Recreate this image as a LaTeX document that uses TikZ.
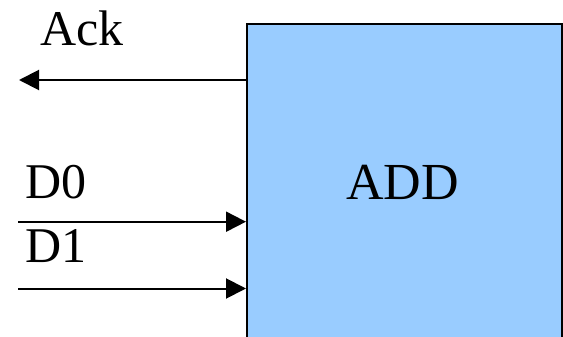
\documentclass[tikz,border=0pt]{standalone}
\usepackage{fontspec}
\setmainfont{Liberation Serif}
\usetikzlibrary{arrows.meta}
\definecolor{boxblue}{HTML}{99CCFF}
\begin{document}
\begin{tikzpicture}[x=1pt,y=-1pt,
  lbl/.style={inner sep=0pt,anchor=base west,font=\fontsize{50}{60}\selectfont},
  wire/.style={line width=2pt,-{Triangle[length=20pt,width=20pt]}},
  blockbox/.style={draw=black,line width=2pt,fill=boxblue,anchor=north west,inner sep=0pt,minimum width=315pt,minimum height=330pt}]
\useasboundingbox (0,0) rectangle (563,337);
\clip (0,0) rectangle (563,337);
\node[blockbox] (add) at (246,22.7) {};
\node[inner sep=0pt,anchor=base,font=\fontsize{52}{62}\selectfont] (addlbl) at (402.5,199) {ADD};
\node[lbl] (ack) at (40,46) {Ack};
\node[lbl] (d0) at (25,198) {D0};
\node[lbl] (d1) at (25,262) {D1};
\coordinate (ackend) at (19,80);
\coordinate (d0start) at (18,221.7);
\coordinate (d1start) at (18,288.5);
\draw[wire] (add.west |- ackend) -- (ackend);
\draw[wire] (d0start) -- (add.west |- d0start);
\draw[wire] (d1start) -- (add.west |- d1start);
\end{tikzpicture}
\end{document}
